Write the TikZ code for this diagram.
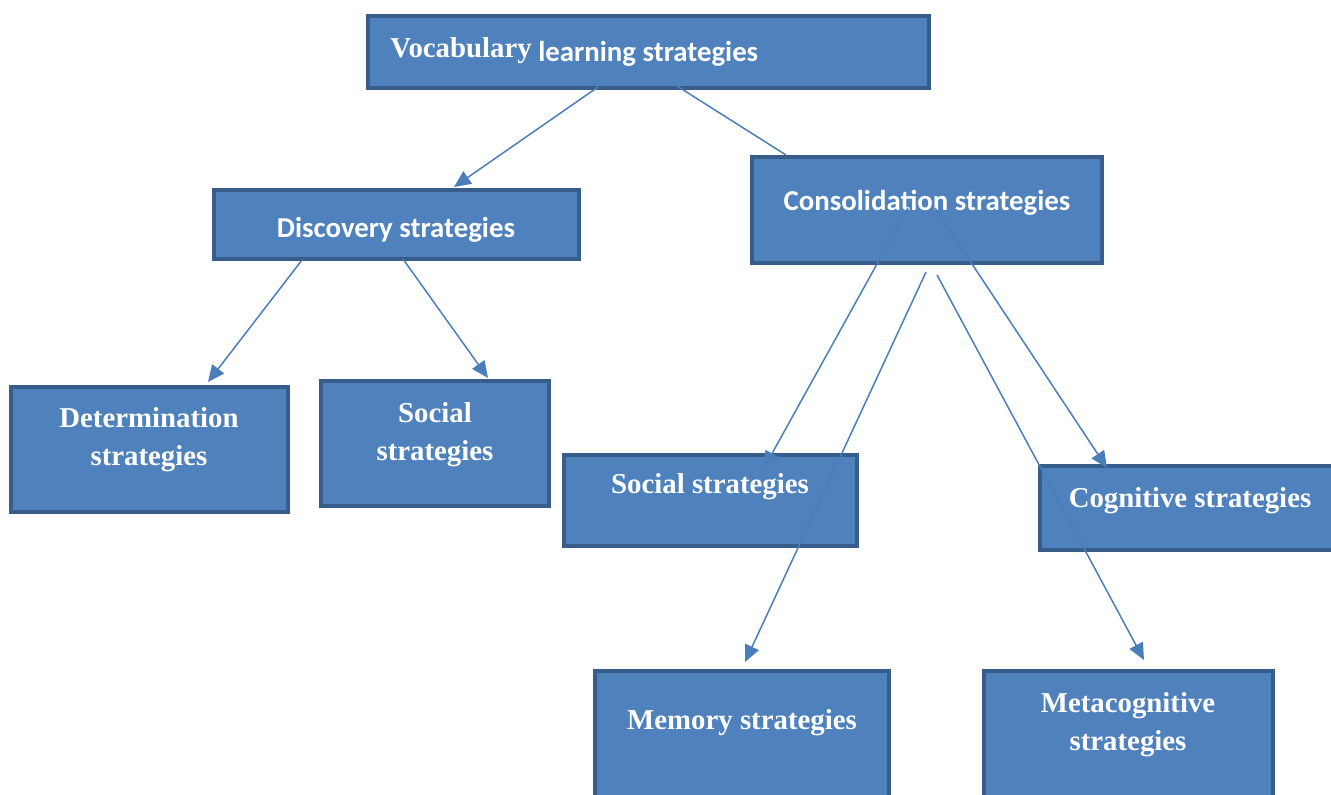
\documentclass[tikz,border=0pt]{standalone}
\usepackage{fontspec}
\setmainfont{Liberation Serif}
\newfontfamily\carlito{Carlito}
\usetikzlibrary{arrows.meta,calc}

\definecolor{boxfill}{HTML}{4F81BD}
\definecolor{boxedge}{HTML}{385D8A}
\definecolor{linkblue}{HTML}{4A7EBB}

\begin{document}
\begin{tikzpicture}[x=0.02cm, y=-0.02cm,
    box/.style={draw=boxedge, fill=boxfill, line width=2.4pt, rectangle, outer sep=0pt},
    tm/.style={text=white, align=center, font=\fontsize{16.4}{21.5}\selectfont\bfseries},
    cb/.style={text=white, font=\carlito\fontsize{16.4}{20}\selectfont\bfseries},
    conn/.style={draw=linkblue, line width=0.85pt, -{Triangle[length=9.5pt,width=8.5pt]}},
    link/.style={draw=linkblue, line width=0.85pt}]
        \useasboundingbox (0,0) rectangle (1331,794);
        \clip (0,0) rectangle (1331,794);

        % Caixas
        \node[box, minimum width=11.22cm, minimum height=1.44cm] (vls) at (648.5,52) {};
        \node[box, minimum width=7.3cm, minimum height=1.38cm] (disc) at (396.5,224.5) {};
        \node[box, minimum width=7.0cm, minimum height=2.12cm] (cons) at (927,210) {};
        \node[box, minimum width=5.54cm, minimum height=2.5cm] (det) at (149.5,449.5) {};
        \node[box, minimum width=4.56cm, minimum height=2.5cm] (soc1) at (435,443.5) {};
        \node[box, minimum width=5.86cm, minimum height=1.82cm] (soc2) at (710.5,500.5) {};
        \node[box, minimum width=6.0cm, minimum height=1.68cm] (cog) at (1190,508) {};
        \node[box, minimum width=5.88cm, minimum height=2.84cm] (mem) at (742,742) {};
        \node[box, minimum width=5.78cm, minimum height=2.84cm] (meta) at (1128.5,742) {};

        % Textos das caixas
        \node[tm, anchor=base west, inner sep=0pt] (vls-t1) at (390,58) {Vocabulary};
        \node[cb, anchor=base west, inner sep=0pt] (vls-t2) at (538,62) {learning strategies};
        \node[cb, anchor=base] (disc-t) at (396,237) {Discovery strategies};
        \node[cb, anchor=base] (cons-t) at (927,210) {Consolidation strategies};
        \node[tm, anchor=base] (det-t) at (149,465) {Determination\\strategies};
        \node[tm, anchor=base] (soc1-t) at (435,460) {Social\\strategies};
        \node[tm, anchor=base] (soc2-t) at (710,493) {Social strategies};
        \node[tm, anchor=base] (cog-t) at (1190,507) {Cognitive strategies};
        \node[tm, anchor=base] (mem-t) at (742,729) {Memory strategies};
        \node[tm, anchor=base] (meta-t) at (1128,750) {Metacognitive\\strategies};

        % Ligacoes
        \draw[conn] ($(vls.south)+(-50.5,-1)$) -- ($(disc.north)+(57.5,-3)$);
        \draw[link] ($(vls.south)+(28.5,-2)$) -- ($(cons.north)+(-141,-2)$);
        \draw[conn] ($(disc.south)+(-94.5,1)$) -- ($(det.north)+(58.5,-5)$);
        \draw[conn] ($(disc.south)+(6.5,0)$) -- ($(soc1.north)+(53,-3)$);
        \draw[conn] ($(cons.center)+(-19,-2)$) -- ($(soc2.north)+(53.5,13)$);
        \draw[conn] ($(cons.center)+(8,-2)$) -- ($(cog.north)+(-83,2)$);
        \draw[conn] ($(cons.south)+(-1,9)$) -- ($(mem.north)+(3,-9)$);
        \draw[conn] ($(cons.south)+(10,12)$) -- ($(meta.north)+(15.5,-11)$);
\end{tikzpicture}
\end{document}
